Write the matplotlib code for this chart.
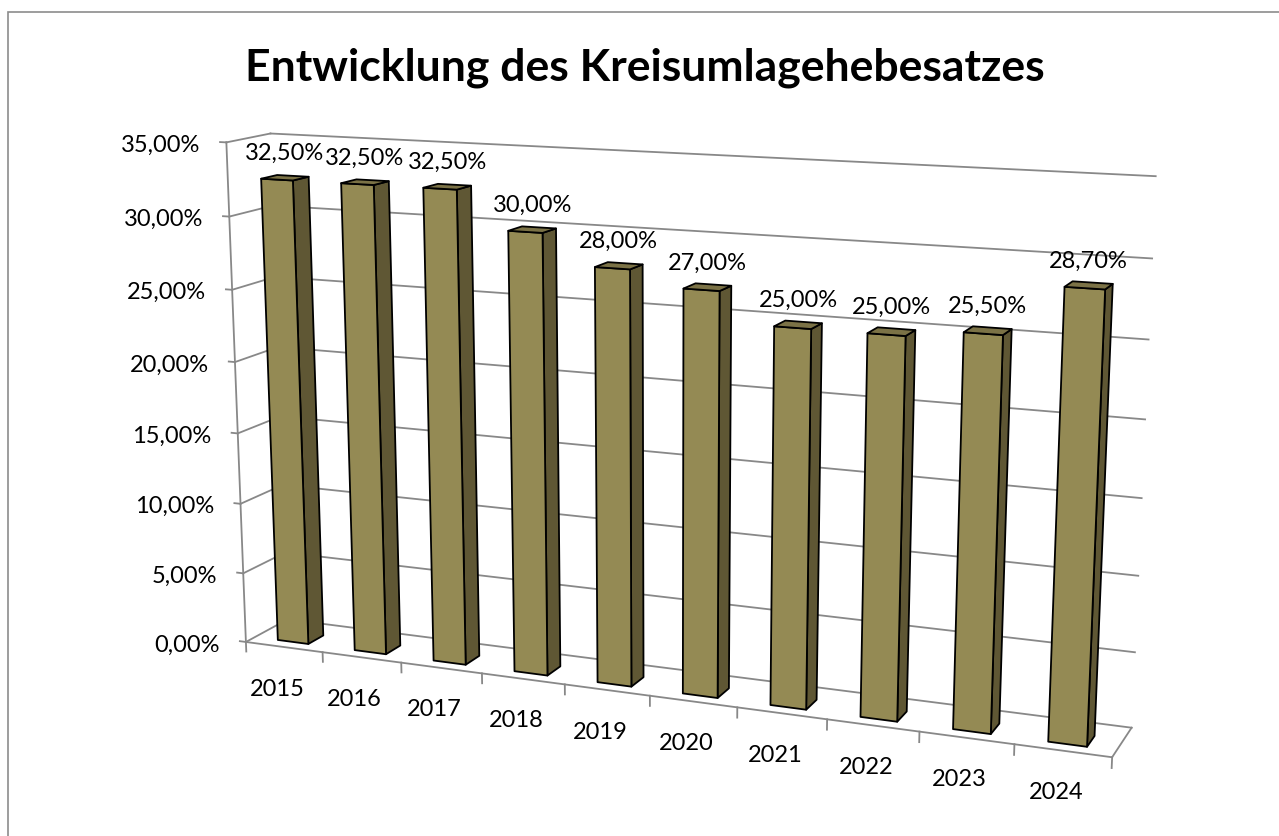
import matplotlib
matplotlib.use("Agg")
import matplotlib.pyplot as plt
from matplotlib.patches import Rectangle
from matplotlib.transforms import offset_copy
from mpl_toolkits.mplot3d.art3d import Poly3DCollection
from mpl_toolkits.mplot3d import proj3d

plt.rcParams['font.family'] = ['Lato', 'DejaVu Sans']

# ---------------- data ----------------
years = ['2015', '2016', '2017', '2018', '2019', '2020', '2021', '2022', '2023', '2024']
rates = [32.50, 32.50, 32.50, 30.00, 28.00, 27.00, 25.00, 25.00, 25.50, 28.70]
y_ticks = [0, 5, 10, 15, 20, 25, 30, 35]
title = 'Entwicklung des Kreisumlagehebesatzes'

# ---------------- style / geometry ----------------
DEPTH = 1.5          # floor depth in category units
BAR_W = 0.40
BAR_D = 0.55
BAR_YC = 0.40 * DEPTH
ZMAX = 35
FRONT_C = '#948A54'
SIDE_C = '#5F5734'
TOP_C = '#7B7246'
GRID_C = '#888888'
FS_TICK = 17
FS_VAL = 17


def pct(v):
    return f'{v:.2f}'.replace('.', ',') + '%'


W, H = 1279, 836
fig = plt.figure(figsize=(W / 100, H / 100), dpi=100)
fig.patch.set_facecolor('white')

# outer chart frame
fig.patches.append(Rectangle((8 / W, -0.1), 1.2, 1.1 - 12 / H, transform=fig.transFigure,
                             fill=False, edgecolor='#8C8C8C', linewidth=1.2))

S = 1200
cx, cy = 650, 393
ax = fig.add_axes([(cx - S / 2) / W, (cy - S / 2) / H, S / W, S / H],
                  projection='3d', computed_zorder=False)
ax.set_proj_type('persp', focal_length=0.39)
ax.view_init(elev=13, azim=-68)
ncat = len(years)
ax.set_xlim(0, ncat)
ax.set_ylim(0, DEPTH)
ax.set_zlim(0, ZMAX)
ax.set_box_aspect((909, 85, 520), zoom=0.879)
ax.set_axis_off()
ax.patch.set_alpha(0)


def label(x, y, z, s, dx=0, dy=0, **kw):
    # project the 3D anchor through the axes' own projection, then offset in pixels
    px, py, _ = proj3d.proj_transform(x, y, z, ax.get_proj())
    tr = offset_copy(ax.transData, fig=fig, x=dx, y=dy, units='dots')
    ax.text2D(px, py, s, transform=tr, **kw)


lw_g = 1.3
# back wall + left wall gridlines
for v in y_ticks:
    ax.plot([0, ncat], [DEPTH, DEPTH], [v, v], color=GRID_C, lw=lw_g, zorder=1)
    ax.plot([0, 0], [0, DEPTH], [v, v], color=GRID_C, lw=lw_g, zorder=1)
    ax.plot([-0.08, 0], [0, 0], [v, v], color=GRID_C, lw=lw_g, zorder=1)
    label(0, 0, v, pct(v), dx=-26, dy=-3, ha='right', va='center',
          fontsize=FS_TICK, zorder=5)
# vertical axis
ax.plot([0, 0], [0, 0], [0, ZMAX], color=GRID_C, lw=lw_g, zorder=1)
# floor edges
ax.plot([0, ncat], [0, 0], [0, 0], color=GRID_C, lw=lw_g, zorder=1)
ax.plot([ncat, ncat], [0, DEPTH], [0, 0], color=GRID_C, lw=lw_g, zorder=1)
for i in range(ncat + 1):
    ax.plot([i, i], [0, 0], [0, -0.7], color=GRID_C, lw=lw_g, zorder=1)

# bars
for i, v in enumerate(rates):
    x0 = i + 0.5 - BAR_W / 2
    x1 = i + 0.5 + BAR_W / 2
    y0 = BAR_YC - BAR_D / 2
    y1 = BAR_YC + BAR_D / 2
    front = [(x0, y0, 0), (x1, y0, 0), (x1, y0, v), (x0, y0, v)]
    right = [(x1, y0, 0), (x1, y1, 0), (x1, y1, v), (x1, y0, v)]
    top = [(x0, y0, v), (x1, y0, v), (x1, y1, v), (x0, y1, v)]
    pc = Poly3DCollection([front, right, top], facecolors=[FRONT_C, SIDE_C, TOP_C],
                          edgecolors='black', linewidths=1.3, zorder=3)
    ax.add_collection3d(pc)
    label(i + 0.5, BAR_YC, v, pct(v), dx=0, dy=24, ha='center', va='center',
          fontsize=FS_VAL, zorder=6)
    label(i + 0.5, 0, 0, years[i], dx=-7, dy=-42, ha='center', va='center',
          fontsize=FS_TICK, zorder=6)

fig.text(0.504, 1 - 68 / H, title, ha='center', va='center', fontsize=32,
         fontweight='bold')

fig.savefig('out.png', dpi=100)
